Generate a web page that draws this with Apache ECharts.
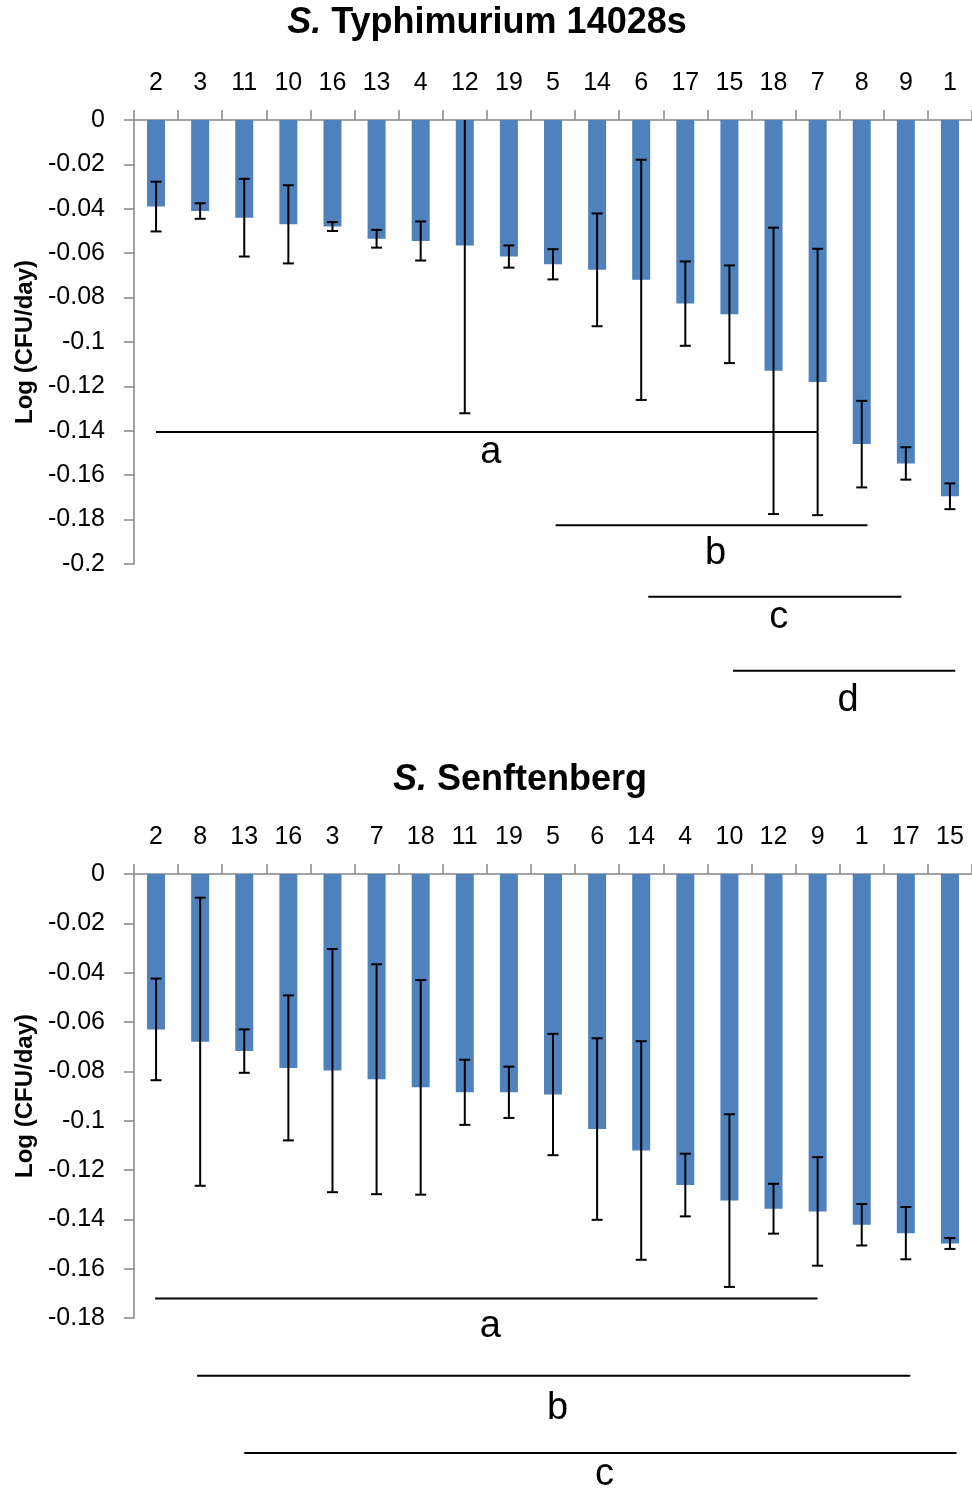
<!DOCTYPE html>
<html>
<head>
<meta charset="utf-8">
<script src="https://cdn.jsdelivr.net/npm/echarts@6/dist/echarts.min.js"></script>
<style>
html,body{margin:0;padding:0;background:#fff;}
#chart{width:972px;height:1488px;}
</style>
</head>
<body>
<div id="chart"></div>
<script>
// ---------- DATA ----------
const topTitle = 'Typhimurium 14028s';
const bottomTitle = 'Senftenberg';
const yAxisName = 'Log (CFU/day)';

const topCats = ['2','3','11','10','16','13','4','12','19','5','14','6','17','15','18','7','8','9','1'];
const topVals = [-0.039,-0.041,-0.044,-0.047,-0.048,-0.0535,-0.0545,-0.0565,-0.0615,-0.065,-0.0675,-0.072,-0.0827,-0.0875,-0.113,-0.118,-0.146,-0.1547,-0.1695];
const topErrs = [0.0112,0.0035,0.0175,0.0176,0.002,0.004,0.0088,0.0756,0.005,0.0068,0.0254,0.0541,0.019,0.022,0.0645,0.060,0.0195,0.0073,0.0058];

const botCats = ['2','8','13','16','3','7','18','11','19','5','6','14','4','10','12','9','1','17','15'];
const botVals = [-0.063,-0.068,-0.0718,-0.0786,-0.0797,-0.0832,-0.0865,-0.0885,-0.0885,-0.0894,-0.1034,-0.1121,-0.1261,-0.1324,-0.1357,-0.1368,-0.1422,-0.1456,-0.1498];
const botErrs = [0.0206,0.0584,0.0088,0.0294,0.0493,0.0466,0.0435,0.0132,0.0104,0.0246,0.0368,0.0443,0.0127,0.035,0.0101,0.022,0.0084,0.0106,0.0022];

// significance groups (category index span, level in axis units)
const topSigLabels = ['a','b','c','d'];
const topSigFrom   = [0, 9.06, 11.16, 13.08];
const topSigTo     = [15, 16.13, 16.9, 18.12];
const topSigLevel  = [-0.1405, -0.1826, -0.2147, -0.2481];

const botSigLabels = ['a','b','c'];
const botSigFrom   = [-0.02, 0.93, 2.0];
const botSigTo     = [15.0, 17.1, 18.15];
const botSigLevel  = [-0.1721, -0.2034, -0.2347];

// ---------- STYLE ----------
const FONT = 'Liberation Sans';
const BAR_COLOR = '#4F81BD';
const AXIS_COLOR = '#868686';
const topSigLabelDy = [21, 28, 21, 30];
const botSigLabelDy = [28, 33, 22];

const chart = echarts.init(document.getElementById('chart'), null, {renderer:'canvas'});

function xAxisDef(gridIndex, cats){
  return {
    type:'category', gridIndex, data:cats, position:'top',
    axisLine:{onZero:false, lineStyle:{color:AXIS_COLOR, width:1.5}},
    axisTick:{show:true, length:10, lineStyle:{color:AXIS_COLOR, width:1.5}},
    axisLabel:{color:'#000', fontFamily:FONT, fontSize:25, margin:24, interval:0},
    splitLine:{show:false}
  };
}
function yAxisDef(gridIndex, min){
  return {
    type:'value', gridIndex, min, max:0, interval:0.02,
    name:yAxisName, nameLocation:'middle', nameRotate:90, nameGap:96,
    nameTextStyle:{color:'#000', fontFamily:FONT, fontSize:24, fontWeight:'bold'},
    axisLine:{show:true, lineStyle:{color:AXIS_COLOR, width:1.5}},
    axisTick:{show:true, length:10, lineStyle:{color:AXIS_COLOR, width:1.5}},
    axisLabel:{color:'#000', fontFamily:FONT, fontSize:25, margin:29},
    splitLine:{show:false}
  };
}
function errRender(params, api){
  const i = api.value(0), v = api.value(1), e = api.value(2);
  const hiVal = Math.min(0, v + e), loVal = v - e;
  const pHi = api.coord([i, hiVal]);
  const pLo = api.coord([i, loVal]);
  const half = 5.5;
  const st = {stroke:'#000', lineWidth:2};
  const ch = [
    {type:'line', shape:{x1:pHi[0], y1:pHi[1], x2:pLo[0], y2:pLo[1]}, style:st},
    {type:'line', shape:{x1:pLo[0]-half, y1:pLo[1], x2:pLo[0]+half, y2:pLo[1]}, style:st}
  ];
  if (v + e < 0) ch.push({type:'line', shape:{x1:pHi[0]-half, y1:pHi[1], x2:pHi[0]+half, y2:pHi[1]}, style:st});
  return {type:'group', children:ch};
}

const option = {
  animation:false,
  backgroundColor:'#fff',
  grid:[
    {left:134, top:120, width:841, height:444, containLabel:false},
    {left:134, top:874, width:841, height:444, containLabel:false}
  ],
  xAxis:[xAxisDef(0, topCats), xAxisDef(1, botCats)],
  yAxis:[yAxisDef(0, -0.2), yAxisDef(1, -0.18)],
  series:[
    {type:'bar', xAxisIndex:0, yAxisIndex:0, data:topVals, barWidth:18, itemStyle:{color:BAR_COLOR}},
    {type:'bar', xAxisIndex:1, yAxisIndex:1, data:botVals, barWidth:18, itemStyle:{color:BAR_COLOR}},
    {type:'custom', xAxisIndex:0, yAxisIndex:0, z:5, renderItem:errRender,
      encode:{x:0, y:1}, data:topVals.map((v,i)=>[i, v, topErrs[i]])},
    {type:'custom', xAxisIndex:1, yAxisIndex:1, z:5, renderItem:errRender,
      encode:{x:0, y:1}, data:botVals.map((v,i)=>[i, v, botErrs[i]])}
  ]
};
chart.setOption(option);

// ---------- ANNOTATIONS (titles + significance bars) ----------
function catPx(gridIndex, pos){
  const f = Math.floor(pos);
  const a = chart.convertToPixel({gridIndex}, [f, 0])[0];
  const b = chart.convertToPixel({gridIndex}, [f + 1, 0])[0];
  return a + (b - a) * (pos - f);
}
function yPx(gridIndex, val){
  return chart.convertToPixel({gridIndex}, [0, val])[1];
}
const graphics = [];
function titleText(x, y, rest){
  graphics.push({
    type:'text', x, y, z:10,
    style:{
      text:'{i|S.} ' + rest,
      rich:{i:{fontFamily:FONT, fontSize:36, fontWeight:'bold', fontStyle:'italic', fill:'#000'}},
      font:'bold 36px "Liberation Sans"', fill:'#000', align:'center', verticalAlign:'middle'
    }
  });
}
titleText(487, 23, topTitle);
titleText(520, 780, bottomTitle);

function sig(gridIndex, labels, from, to, level, dy){
  labels.forEach((lab, k) => {
    const x1 = catPx(gridIndex, from[k]);
    const x2 = catPx(gridIndex, to[k]);
    const y = yPx(gridIndex, level[k]);
    graphics.push({type:'line', z:10, shape:{x1, y1:y, x2, y2:y}, style:{stroke:'#000', lineWidth:2}});
    graphics.push({type:'text', z:10, x:(x1 + x2) / 2 + 4, y:y + dy[k],
      style:{text:lab, font:'38px "Liberation Sans"', fill:'#000', align:'center', verticalAlign:'middle'}});
  });
}
sig(0, topSigLabels, topSigFrom, topSigTo, topSigLevel, topSigLabelDy);
sig(1, botSigLabels, botSigFrom, botSigTo, botSigLevel, botSigLabelDy);

chart.setOption({graphic:graphics});
</script>
</body>
</html>
